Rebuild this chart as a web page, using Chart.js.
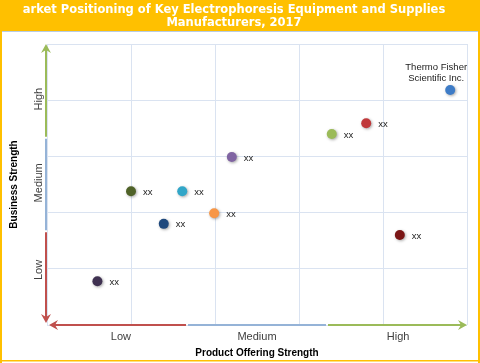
<!DOCTYPE html>
<html>
<head>
<meta charset="utf-8">
<script src="https://cdn.jsdelivr.net/npm/chart.js@4"></script>
<style>
  body { margin: 0; background: #fff; }
  #wrap { width: 480px; height: 363px; position: relative; }
</style>
</head>
<body>
<div id="wrap"><canvas id="positioningChart"></canvas></div>
<script>
// chart data
const titleLines = [
  "arket Positioning of Key Electrophoresis Equipment and Supplies",
  "Manufacturers, 2017",
];
const companies = [
  "Thermo Fisher Scientific Inc.",
  "xx", "xx", "xx", "xx", "xx", "xx", "xx", "xx", "xx",
];
const productStrength = [4.8, 3.8, 3.39, 2.2, 1.0, 1.61, 1.99, 1.39, 0.6, 4.2];
const businessStrength = [4.18, 3.59, 3.4, 2.99, 2.38, 2.38, 1.99, 1.8, 0.78, 1.6];
const pointColors = [
  "#3E7CC7", "#C0393B", "#9BBB59", "#8064A2", "#4F6228",
  "#31A6C8", "#F79646", "#1F497D", "#3F3151", "#7B1616",
];
const levelLabels = ["Low", "Medium", "High"];
const xLevelPositions = [0.88, 2.5, 4.18];
const yLevelPositions = [0.98, 2.53, 4.02];

const RED = "#C0504D";
const BLUE = "#95B3D7";
const GREEN = "#9BBB59";

function arrowHead(ctx, x, y, dx, dy, color) {
  // dx, dy = unit direction the arrow points to
  const len = 9, half = 5, notch = 3;
  const px = -dy, py = dx;
  ctx.fillStyle = color;
  ctx.beginPath();
  ctx.moveTo(x, y);
  ctx.lineTo(x - dx * len + px * half, y - dy * len + py * half);
  ctx.lineTo(x - dx * (len - notch), y - dy * (len - notch));
  ctx.lineTo(x - dx * len - px * half, y - dy * len - py * half);
  ctx.closePath();
  ctx.fill();
}

function line(ctx, x1, y1, x2, y2, color) {
  ctx.strokeStyle = color;
  ctx.lineWidth = 2;
  ctx.beginPath();
  ctx.moveTo(x1, y1);
  ctx.lineTo(x2, y2);
  ctx.stroke();
}

const framePlugin = {
  id: "frame",
  beforeDraw(chart) {
    const { ctx, width, height } = chart;
    ctx.save();
    ctx.fillStyle = "#fff";
    ctx.fillRect(0, 0, width, height);
    ctx.fillStyle = "#FFC000";
    ctx.fillRect(0, 0, width, 31);
    ctx.fillRect(0, 31, 2, height - 31);
    ctx.fillRect(width - 2, 31, 2, height - 31);
    ctx.fillRect(0, 360, width, 1.5);
    ctx.fillStyle = "#B8CCE4";
    ctx.fillRect(2, 31, width - 4, 1);

    ctx.fillStyle = "#fff";
    ctx.font = "bold 11.5px 'DejaVu Sans'";
    ctx.textAlign = "center";
    ctx.textBaseline = "middle";
    ctx.fillText(titleLines[0], 234, 10);
    ctx.fillText(titleLines[1], 234, 23);
    ctx.restore();
  },
  beforeDatasetsDraw(chart) {
    const ctx = chart.ctx;
    ctx.save();
    ctx.shadowColor = "rgba(0,0,0,0.35)";
    ctx.shadowBlur = 3;
    ctx.shadowOffsetX = 1;
    ctx.shadowOffsetY = 1;
  },
  afterDatasetsDraw(chart) {
    chart.ctx.restore();
  },
  afterDraw(chart) {
    const { ctx } = chart;
    const xs = chart.scales.x;
    const ys = chart.scales.y;
    const x0 = xs.getPixelForValue(0);
    const x5 = xs.getPixelForValue(5);
    const y0 = ys.getPixelForValue(0);
    const y5 = ys.getPixelForValue(5);
    const third = 5 / 3;

    ctx.save();
    // vertical axis: green / blue / red
    const ax = x0 - 1;
    line(ctx, ax, y5 + 6, ax, ys.getPixelForValue(third * 2) - 1, GREEN);
    line(ctx, ax, ys.getPixelForValue(third * 2) + 1, ax, ys.getPixelForValue(third) - 1, BLUE);
    line(ctx, ax, ys.getPixelForValue(third) + 1, ax, y0 - 7, RED);
    arrowHead(ctx, ax, y5, 0, -1, GREEN);
    arrowHead(ctx, ax, y0 - 2, 0, 1, RED);

    // horizontal axis: red / blue / green
    const ay = y0;
    line(ctx, x0 + 8, ay, xs.getPixelForValue(third) - 1, ay, RED);
    line(ctx, xs.getPixelForValue(third) + 1, ay, xs.getPixelForValue(third * 2) - 1, ay, BLUE);
    line(ctx, xs.getPixelForValue(third * 2) + 1, ay, x5 - 6, ay, GREEN);
    arrowHead(ctx, x0 + 2, ay, -1, 0, RED);
    arrowHead(ctx, x5, ay, 1, 0, GREEN);

    // level labels
    ctx.fillStyle = "#404040";
    ctx.font = "11px 'Liberation Sans'";
    ctx.textAlign = "center";
    ctx.textBaseline = "middle";
    levelLabels.forEach((lab, i) => {
      ctx.fillText(lab, xs.getPixelForValue(xLevelPositions[i]), 337);
    });
    levelLabels.forEach((lab, i) => {
      ctx.save();
      ctx.translate(38.5, ys.getPixelForValue(yLevelPositions[i]));
      ctx.rotate(-Math.PI / 2);
      ctx.fillText(lab, 0, 0);
      ctx.restore();
    });

    // company labels
    const meta = chart.getDatasetMeta(0);
    ctx.fillStyle = "#222";
    ctx.font = "9.5px 'Liberation Sans'";
    meta.data.forEach((pt, i) => {
      if (i === 0) {
        ctx.textAlign = "center";
        const words = companies[i].split(" ");
        ctx.fillText(words.slice(0, 2).join(" "), pt.x - 14, pt.y - 23);
        ctx.fillText(words.slice(2).join(" "), pt.x - 14, pt.y - 12);
      } else {
        ctx.textAlign = "left";
        ctx.fillText(companies[i], pt.x + 12, pt.y + 1);
      }
    });
    ctx.restore();
  },
};

const ctx = document.getElementById("positioningChart").getContext("2d");

const chart = new Chart(ctx, {
  type: "scatter",
  data: {
    datasets: [
      {
        label: "Companies",
        data: productStrength.map((x, i) => ({ x: x, y: businessStrength[i] })),
        backgroundColor: pointColors,
        borderWidth: 0,
        pointRadius: 5,
        pointHoverRadius: 5,
      },
    ],
  },
  options: {
    responsive: true,
    maintainAspectRatio: false,
    animation: false,
    events: [],
    layout: {
      padding: { top: 44, left: 3, right: 13, bottom: 4 },
    },
    plugins: {
      legend: { display: false },
      tooltip: { enabled: false },
    },
    scales: {
      x: {
        min: 0,
        max: 5,
        ticks: { display: false, stepSize: 1 },
        grid: { color: "#DAE3F1", drawTicks: false },
        border: { display: false },
        title: {
          display: true,
          text: "Product Offering Strength",
          color: "#000",
          font: { family: "'Liberation Sans'", size: 10, weight: "bold" },
          padding: { top: 22, bottom: 0 },
        },
      },
      y: {
        min: 0,
        max: 5,
        ticks: { display: false, stepSize: 1 },
        grid: { color: "#DAE3F1", drawTicks: false },
        border: { display: false },
        title: {
          display: true,
          text: "Business Strength",
          color: "#000",
          font: { family: "'Liberation Sans'", size: 10, weight: "bold" },
          padding: { top: 5.5, bottom: 26.5 },
        },
      },
    },
  },
  plugins: [framePlugin],
});
</script>
</body>
</html>
